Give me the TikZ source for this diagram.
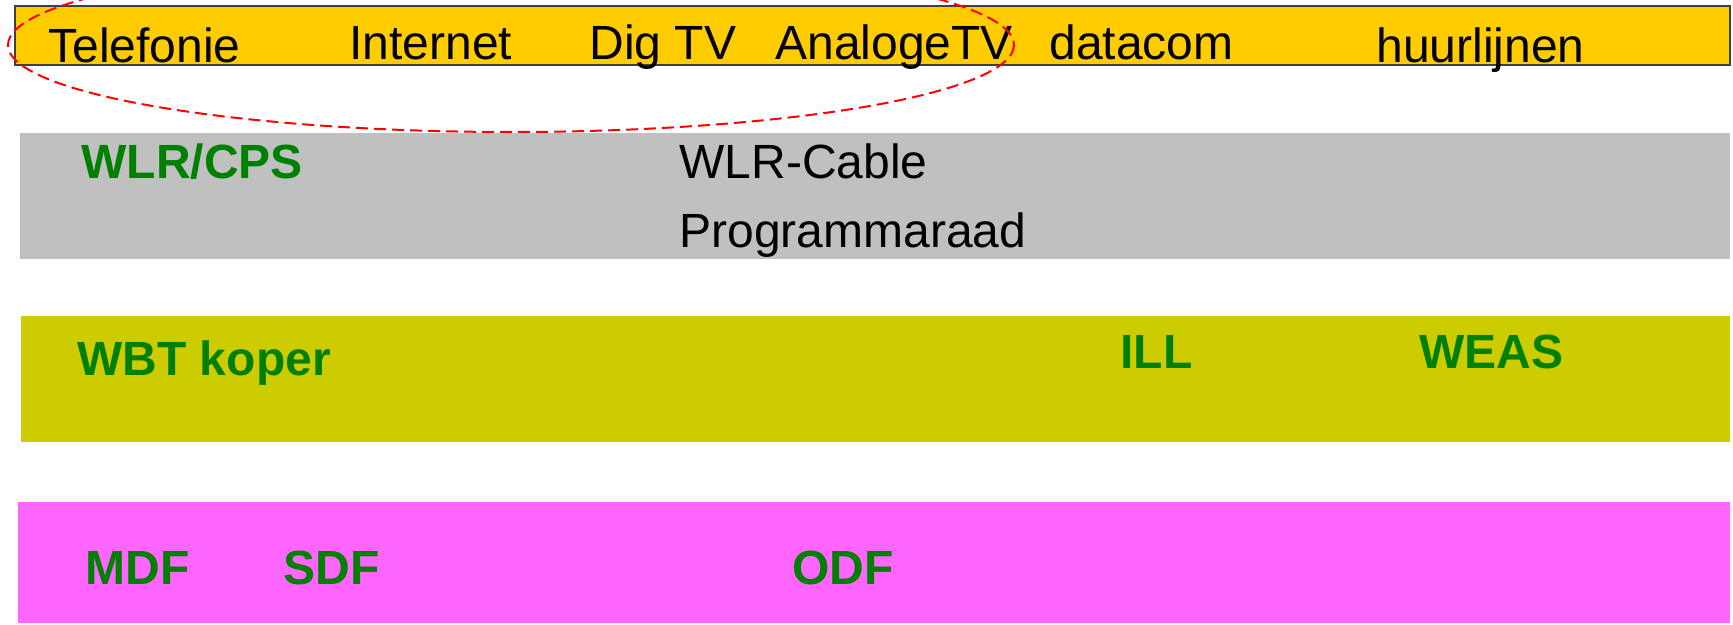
\documentclass[tikz,border=0pt]{standalone}
\usepackage{fontspec}
\setmainfont{Liberation Sans}

\definecolor{layeryellow}{HTML}{FFCC00}
\definecolor{layergray}{HTML}{C0C0C0}
\definecolor{layerolive}{HTML}{CCCC00}
\definecolor{layermagenta}{HTML}{FF66FF}
\definecolor{productgreen}{HTML}{008000}

\tikzset{
    service/.style={anchor=base west, inner sep=0pt, font=\fontsize{24}{28}\selectfont},
    product/.style={anchor=base west, inner sep=0pt, text=productgreen, font=\fontsize{24}{28}\selectfont\bfseries},
}

\begin{document}
\begin{tikzpicture}[x=0.5pt, y=-0.5pt]
    \clip (0,0) rectangle (1733,625);
    \fill[white] (0,0) rectangle (1733,625);

    % Layers
    \draw[fill=layeryellow, draw=black!75, line width=0.6pt] (15,6) rectangle (1730,65);
    \fill[layergray] (20,133) rectangle (1730,259);
    \fill[layerolive] (21,316) rectangle (1730,442);
    \fill[layermagenta] (18,502) rectangle (1730,623);

    % Services
    \node[service] (telefonie) at (48,63) {Telefonie};
    \node[service] (internet) at (349,60) {Internet};
    \node[service] (digtv) at (589,60) {Dig TV};
    \node[service] (analoog) at (775,60) {AnalogeTV};
    \node[service] (datacom) at (1049,60) {datacom};
    \node[service] (huur) at (1376,63) {huurlijnen};

    % Wholesale
    \node[product] (wlr) at (81,179) {WLR/CPS};
    \node[service] (wlrcable) at (679,179) {WLR-Cable};
    \node[service] (programma) at (679,248) {Programmaraad};

    \node[product] (wbt) at (77,375) {WBT koper};
    \node[product] (ill) at (1120,369) {ILL};
    \node[product] (weas) at (1419,369) {WEAS};

    \node[product] (mdf) at (85,584) {MDF};
    \node[product] (sdf) at (283,584) {SDF};
    \node[product] (odf) at (792,584) {ODF};

    % Triple play
    \draw[red, line width=1pt, dash pattern=on 6pt off 3pt] (511,45) ellipse [x radius=503, y radius=87];
\end{tikzpicture}
\end{document}
